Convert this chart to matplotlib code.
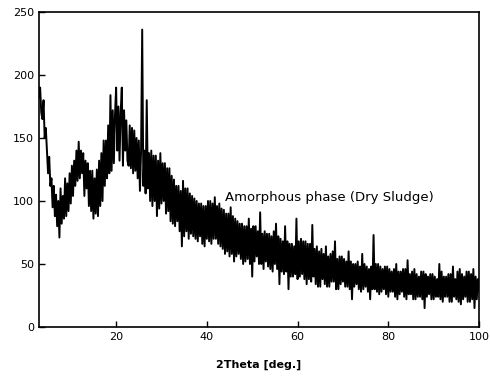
import numpy as np
import matplotlib
matplotlib.use("Agg")
import matplotlib.pyplot as plt

# 2theta grid starts at 2.75 deg, step 0.25 deg (one row = 2 deg)
theta_start = 2.75
theta_step = 0.25
counts = [
    196, 182, 190, 170, 165, 180, 150, 158,
    140, 122, 135, 112, 118, 95, 112, 88,
    105, 80, 100, 71, 110, 82, 104, 86,
    118, 88, 114, 92, 122, 98, 128, 104,
    132, 112, 140, 116, 147, 118, 140, 122,
    138, 104, 132, 110, 130, 96, 124, 92,
    124, 86, 118, 90, 125, 88, 132, 96,
    138, 100, 148, 112, 148, 118, 160, 122,
    184, 124, 172, 130, 168, 190, 140, 175,
    132, 170, 190, 128, 172, 140, 164, 132,
    128, 160, 126, 158, 122, 156, 124, 150,
    118, 148, 108, 140, 236, 112, 140, 106,
    180, 110, 138, 100, 140, 96, 136, 100,
    136, 88, 132, 94, 138, 98, 130, 100,
    130, 90, 126, 92, 126, 84, 120, 82,
    117, 80, 112, 84, 112, 76, 108, 64,
    116, 72, 110, 76, 110, 70, 106, 74,
    104, 72, 102, 70, 100, 68, 98, 72,
    98, 66, 96, 64, 96, 70, 100, 68,
    100, 66, 98, 70, 103, 70, 96, 66,
    98, 64, 94, 62, 93, 58, 90, 60,
    90, 56, 95, 58, 88, 52, 86, 56,
    84, 58, 82, 54, 82, 50, 80, 52,
    80, 54, 86, 50, 78, 40, 80, 52,
    80, 56, 76, 50, 91, 50, 74, 46,
    76, 52, 74, 48, 74, 46, 72, 44,
    76, 50, 82, 46, 72, 34, 70, 44,
    68, 42, 80, 44, 68, 30, 66, 40,
    66, 40, 64, 42, 86, 38, 68, 40,
    70, 42, 68, 38, 68, 34, 66, 38,
    66, 36, 81, 40, 62, 34, 64, 32,
    60, 32, 62, 38, 58, 34, 64, 32,
    56, 32, 58, 36, 60, 36, 68, 30,
    54, 30, 56, 34, 56, 36, 54, 32,
    52, 32, 60, 30, 52, 22, 50, 32,
    50, 34, 52, 30, 48, 28, 58, 30,
    50, 32, 48, 28, 46, 22, 48, 30,
    73, 30, 50, 28, 50, 26, 48, 28,
    46, 30, 48, 26, 48, 24, 46, 28,
    44, 28, 46, 24, 50, 22, 44, 26,
    44, 28, 46, 24, 46, 22, 53, 26,
    42, 26, 44, 22, 46, 22, 42, 24,
    40, 24, 44, 22, 44, 15, 42, 24,
    40, 26, 42, 22, 42, 22, 40, 24,
    38, 24, 50, 22, 44, 20, 40, 24,
    40, 24, 42, 20, 42, 20, 48, 24,
    38, 22, 44, 20, 46, 18, 42, 22,
    40, 24, 44, 20, 44, 20, 42, 22,
    46, 15, 40, 22, 38, 28, 36, 26,
]
x_ticks = [20, 40, 60, 80, 100]
y_ticks = [0, 50, 100, 150, 200, 250]
note = "Amorphous phase (Dry Sludge)"

theta = theta_start + theta_step * np.arange(len(counts))

fig = plt.figure(figsize=(4.9, 3.83), dpi=100)
ax = fig.add_axes([0.0796, 0.1462, 0.898, 0.8225])
ax.plot(theta, counts, color="black", linewidth=1.4)

ax.set_xlim(3, 100)
ax.set_ylim(0, 250)
ax.set_xticks(x_ticks)
ax.set_yticks(y_ticks)
ax.tick_params(direction="in", length=4, labelsize=8, width=1)
for s in ax.spines.values():
    s.set_linewidth(1.2)

ax.set_xlabel("2Theta [deg.]", fontsize=8, fontweight="bold", labelpad=13)
ax.text(67, 103, note, fontsize=9.5, ha="center", va="center")

fig.savefig("out.png", dpi=100)
